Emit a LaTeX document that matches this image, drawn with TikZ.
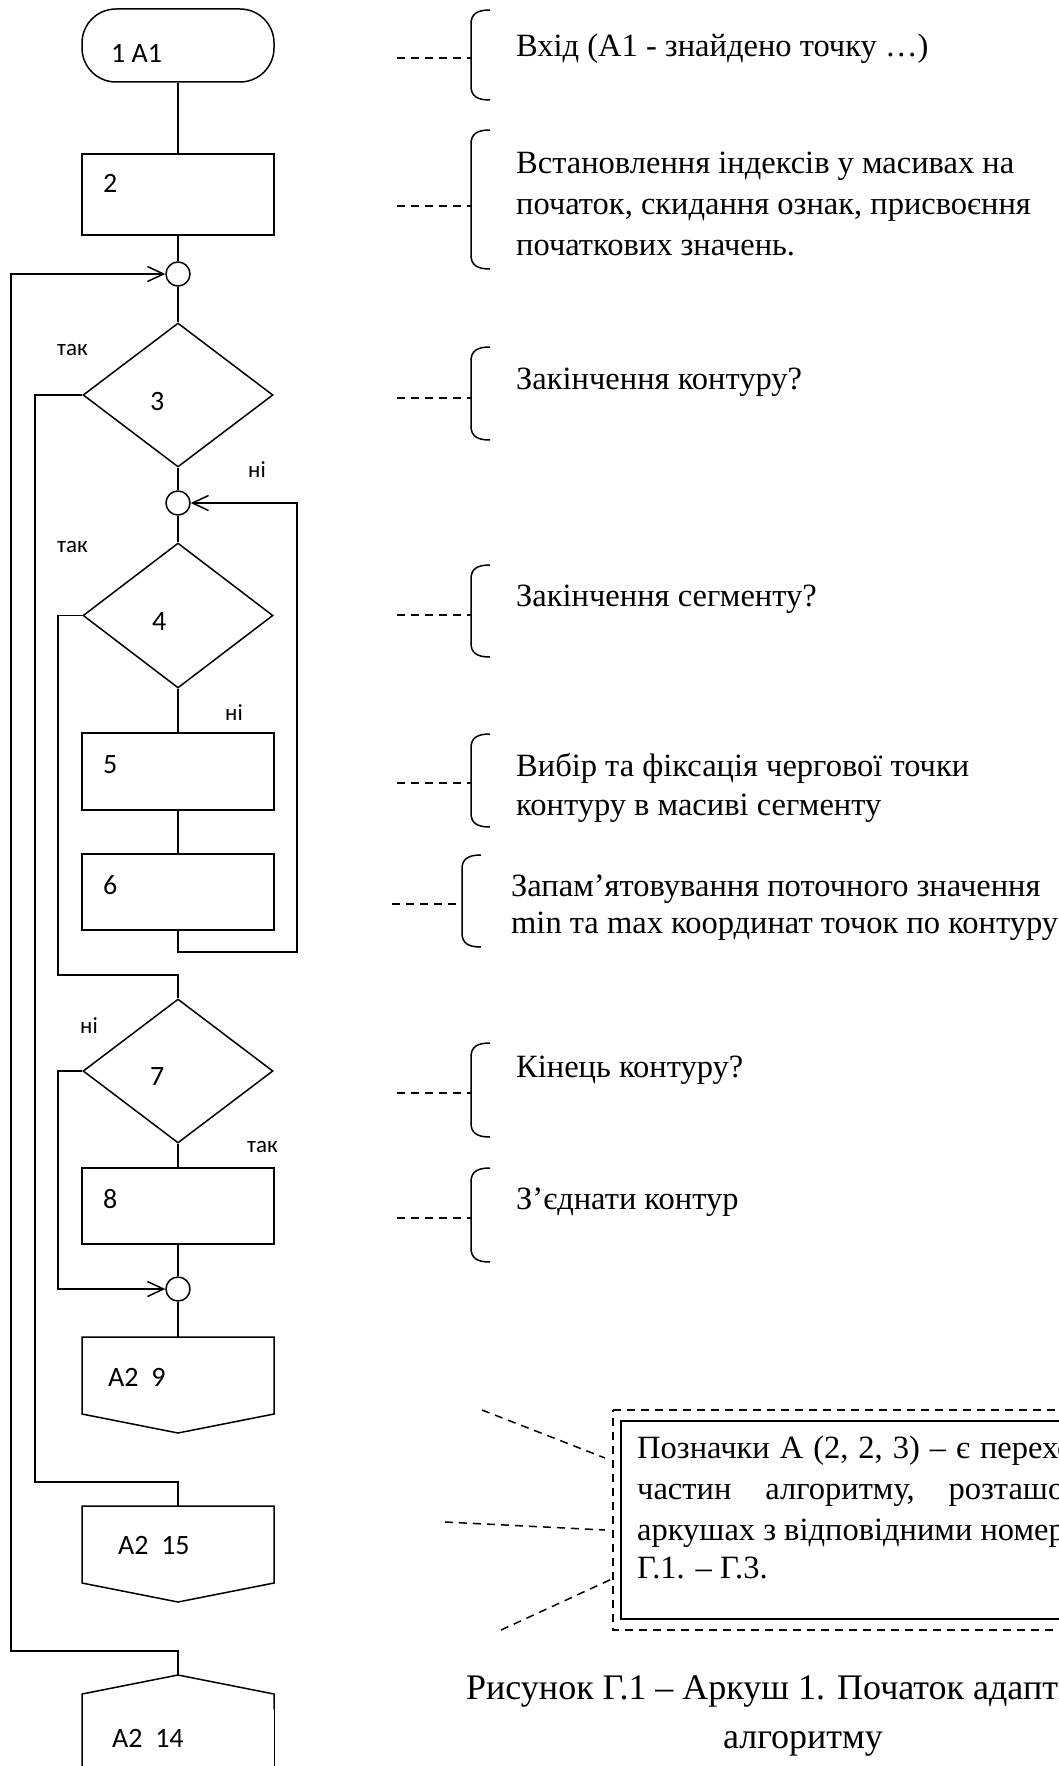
\documentclass[tikz,border=0pt]{standalone}
\usepackage{fontspec}
\usetikzlibrary{shapes.geometric,arrows.meta}
\newfontfamily\serfont{Liberation Serif}
\newfontfamily\calfont{Carlito}
\newcommand\mybrace[5]{%
  \draw[flow] (#1+19,#2) .. controls (#1+6,#2) and (#1,#2+4) .. (#1,#2+14) -- (#1,#3-14) .. controls (#1,#3-4) and (#1+6,#3) .. (#1+19,#3);
  \draw[dsh] (#5,#4) -- (#1,#4);
}
\begin{document}
\begin{tikzpicture}[x=1pt,y=-1pt,
  flow/.style={line width=1.5pt},
  blk/.style={draw, flow, rectangle, minimum width=192pt, inner sep=0pt},
  dia/.style={draw, flow, diamond, minimum width=190pt, minimum height=144pt, inner sep=0pt},
  conn/.style={draw, flow, circle, minimum size=24pt, inner sep=0pt},
  term/.style={draw, flow, rectangle, rounded corners=34pt, minimum width=192pt, minimum height=73pt, inner sep=0pt},
  num/.style={font=\calfont\fontsize{28}{34}\selectfont, anchor=west, inner sep=0pt},
  yn/.style={font=\calfont\fontsize{23}{28}\selectfont, anchor=west, inner sep=0pt},
  note/.style={font=\serfont\fontsize{32.5}{40}\selectfont, anchor=base west, inner sep=0pt},
  captxt/.style={font=\serfont\fontsize{36}{42}\selectfont, anchor=base west, inner sep=0pt},
  dsh/.style={dash pattern=on 8pt off 6pt, line width=1.5pt},
  arr/.style={flow, -{Straight Barb[length=16pt,width=15pt,line width=1.5pt]}},
]
\useasboundingbox (0,0) rectangle (1059,1766);
\clip (0,0) rectangle (1059,1766);

% ---------- flowchart nodes ----------
\node[term] (t1) at (178,45.5) {};
\node[blk, minimum height=81pt] (b2) at (178,194.5) {};
\node[conn] (c1) at (178,274) {};
\node[dia] (d3) at (178,395) {};
\node[conn] (c2) at (178,503) {};
\node[dia, minimum height=145pt] (d4) at (178,615.5) {};
\node[blk, minimum height=77pt] (b5) at (178,771.5) {};
\node[blk, minimum height=76pt] (b6) at (178,892) {};
\node[dia] (d7) at (178,1071) {};
\node[blk, minimum height=76pt] (b8) at (178,1206) {};
\node[conn] (c3) at (178,1289) {};

% off-page connectors
\coordinate (p9) at (178,1337);
\coordinate (p15) at (178,1506);
\coordinate (p14) at (178,1675);
\draw[flow] (82,1337) -- (274,1337) -- (274,1414) -- (178,1433) -- (82,1414) -- cycle;
\draw[flow] (82,1506) -- (274,1506) -- (274,1583) -- (178,1602) -- (82,1583) -- cycle;
\draw[flow] (82,1780) -- (82,1694) -- (p14) -- (274,1694) -- (274,1709);
\draw[line width=0.6pt] (274,1709) -- (274,1780);

% labels inside
\node[num] (l1) at (111,53) {1 A1};
\node[num] (l2) at (103,183) {2};
\node[num] (l3) at (150,402) {3};
\node[num] (l4) at (152,622) {4};
\node[num] (l5) at (103,765) {5};
\node[num] (l6) at (103,885) {6};
\node[num] (l7) at (150,1077) {7};
\node[num] (l8) at (103,1199) {8};
\node[num] (l9) at (108,1377) {A2\ \ 9};
\node[num] (l15) at (118,1545) {A2\ \ 15};
\node[num] (l14) at (112,1738) {A2\ \ 14};

\node[yn] (y3) at (57,350) {так};
\node[yn] (n3) at (248,470) {ні};
\node[yn] (y4) at (57,547) {так};
\node[yn] (n4) at (225,713) {ні};
\node[yn] (n7) at (80,1026) {ні};
\node[yn] (y7) at (247,1147) {так};

% ---------- connectors ----------
\draw[flow] (t1.south) -- (b2.north);
\draw[flow] (b2.south) -- (c1.north);
\draw[flow] (c1.south) -- (d3.north);
\draw[flow] (d3.south) -- (c2.north);
\draw[flow] (c2.south) -- (d4.north);
\draw[flow] (d4.south) -- (b5.north);
\draw[flow] (b5.south) -- (b6.north);
\draw[arr] (b6.south) -- (178,952) -- (297,952) -- (297,503) -- (c2.east);
\draw[flow] (d4.west) -- (58,615.5) -- (58,975) -- (178,975) -- (d7.north);
\draw[flow] (d7.south) -- (b8.north);
\draw[arr] (d7.west) -- (58,1071) -- (58,1289) -- (c3.west);
\draw[flow] (b8.south) -- (c3.north);
\draw[flow] (c3.south) -- (p9);
\draw[flow] (d3.west) -- (35,395) -- (35,1482) -- (178,1482) -- (p15);
\draw[arr] (p14) -- (178,1651) -- (11,1651) -- (11,274) -- (c1.west);

% ---------- comments ----------
\mybrace{471}{10}{100}{58}{397}
\mybrace{471}{130}{269}{206}{397}
\mybrace{471}{347}{440}{398}{397}
\mybrace{471}{565}{657}{615}{397}
\mybrace{471}{734}{827}{783}{397}
\mybrace{462}{855}{947}{904}{392}
\mybrace{471}{1043}{1137}{1093}{397}
\mybrace{471}{1168}{1262}{1218}{397}

\node[note] (k1) at (516,57) {Вхід (А1 - знайдено точку …)};
\node[note] (k2a) at (516,173) {Встановлення індексів у масивах на};
\node[note] (k2b) at (516,214) {початок, скидання ознак, присвоєння};
\node[note] (k2c) at (516,255) {початкових значень.};
\node[note] (k3) at (516,389) {Закінчення контуру?};
\node[note] (k4) at (516,606) {Закінчення сегменту?};
\node[note] (k5a) at (516,776) {Вибір та фіксація чергової точки};
\node[note] (k5b) at (516,815) {контуру в масиві сегменту};
\node[note] (k6a) at (511,896) {Запам’ятовування поточного значення};
\node[note] (k6b) at (511,933) {min та max координат точок по контуру};
\node[note] (k7) at (516,1077) {Кінець контуру?};
\node[note] (k8) at (516,1209) {З’єднати контур};

% ---------- note box ----------
\draw[dsh] (613,1410) -- (1080,1410) -- (1080,1630) -- (613,1630) -- cycle;
\draw[line width=2pt] (621,1421) rectangle (1080,1619);
\draw[dsh] (482,1410) -- (605,1458);
\draw[dsh] (445,1522) -- (605,1530);
\draw[dsh] (501,1630) -- (614,1578);

\node[note] (a1) at (637,1458) {\spaceskip=10pt Позначки А (2, 2, 3) – є переходами до};
\node[note] (a2) at (637,1499) {частин\hspace{34pt}алгоритму,\hspace{34pt}розташованих на};
\node[note] (a3) at (637,1540) {аркушах з відповідними номерами};
\node[note] (a4) at (637,1578) {Г.1. – Г.3.};

\node[captxt] (f1) at (466,1699) {Рисунок Г.1 – Аркуш 1. Початок адаптивного};
\node[captxt, anchor=base] (f2) at (803,1748) {алгоритму};
\end{tikzpicture}
\end{document}
